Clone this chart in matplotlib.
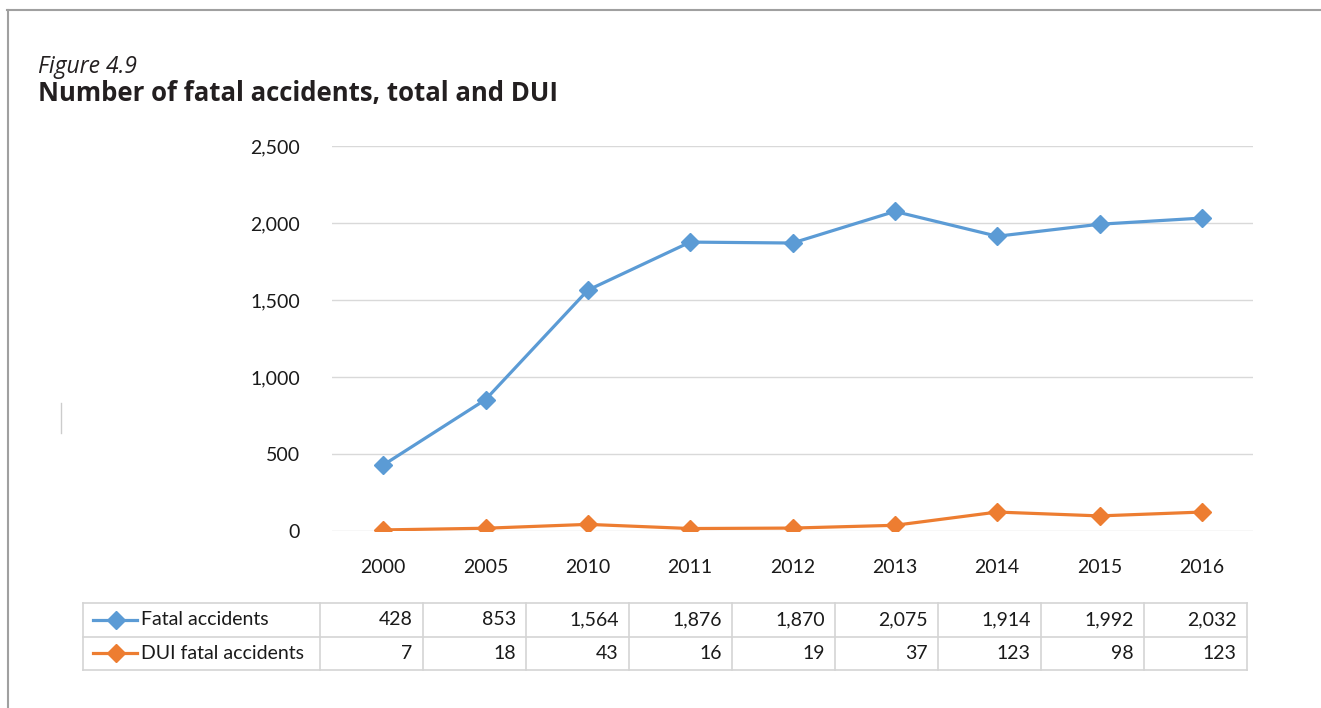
import matplotlib.pyplot as plt
from matplotlib.lines import Line2D

years = ['2000', '2005', '2010', '2011', '2012', '2013', '2014', '2015', '2016']
fatal = [428, 853, 1564, 1876, 1870, 2075, 1914, 1992, 2032]
dui = [7, 18, 43, 16, 19, 37, 123, 98, 123]
series_names = ['Fatal accidents', 'DUI fatal accidents']
yticks = [0, 500, 1000, 1500, 2000, 2500]

blue = '#5B9BD5'
orange = '#ED7D31'
grid_c = '#d9d9d9'

plt.rcParams['font.family'] = ['Lato', 'DejaVu Sans']

W, H = 1321, 708
fig = plt.figure(figsize=(W / 100, H / 100), dpi=100)

# frame lines round the figure (top and left)
fig.add_artist(Line2D([7 / W, 1], [1 - 10 / H, 1 - 10 / H], color='#a0a0a0', lw=1.5))
fig.add_artist(Line2D([8 / W, 8 / W], [0, 1 - 10 / H], color='#a0a0a0', lw=1.5))
fig.add_artist(Line2D([61 / W, 61 / W], [1 - 403 / H, 1 - 433 / H], color='#cccccc', lw=1))

fig.text(38 / W, 1 - 67 / H, 'Figure 4.9', fontsize=16.5, style='italic',
         family=['Open Sans', 'DejaVu Sans'], va='center', ha='left', color='#231f20')
fig.text(38 / W, 1 - 93 / H, 'Number of fatal accidents, total and DUI', fontsize=18.5,
         weight='bold', family=['Open Sans', 'DejaVu Sans'], va='center', ha='left',
         color='#231f20')

# main chart
ax = fig.add_axes([332 / W, 1 - 531 / H, (1253 - 332) / W, (531 - 146) / H])
x = range(len(years))
ax.plot(x, fatal, color=blue, lw=2.3, marker='D', markersize=9, zorder=3)
ax.plot(x, dui, color=orange, lw=2.3, marker='D', markersize=9, zorder=3)
ax.set_xlim(-0.5, len(years) - 0.5)
ax.set_ylim(0, 2500)
ax.set_yticks(yticks)
ax.set_yticklabels([f'{v:,}' for v in yticks])
ax.set_xticks(list(x))
ax.set_xticklabels(years)
ax.yaxis.grid(True, color=grid_c, lw=1)
ax.set_axisbelow(True)
for s in ax.spines.values():
    s.set_visible(False)
ax.tick_params(length=0, labelsize=14, colors='#1a1a1a')
ax.tick_params(axis='y', pad=23)
ax.tick_params(axis='x', pad=20)

# data table below the chart
tab = fig.add_axes([83 / W, 1 - 670 / H, (1247 - 83) / W, (670 - 603) / H])
lab_w = (320 - 83) / 103
tab.set_xlim(-lab_w, len(years))
tab.set_ylim(2, 0)
tab.axis('off')
line_c = '#d4d4d4'
for r in range(3):
    tab.plot([-lab_w, len(years)], [r, r], color=line_c, lw=1.2, clip_on=False)
for c in [-lab_w] + list(range(len(years) + 1)):
    tab.plot([c, c], [0, 2], color=line_c, lw=1.2, clip_on=False)

rows = [fatal, dui]
colors = [blue, orange]
for r, (vals, name, col) in enumerate(zip(rows, series_names, colors)):
    yc = r + 0.5
    tab.plot([-lab_w + 0.1, -lab_w + 0.52], [yc, yc], color=col, lw=2.3, clip_on=False)
    tab.plot([-lab_w + 0.32], [yc], marker='D', color=col, markersize=9, clip_on=False)
    tab.text(-lab_w + 0.56, yc, name, fontsize=14, va='center', ha='left', color='#1a1a1a')
    for i, v in enumerate(vals):
        tab.text(i + 0.9, yc, f'{v:,}', fontsize=14, va='center', ha='right', color='#1a1a1a')

fig.savefig('out.png', dpi=100)
